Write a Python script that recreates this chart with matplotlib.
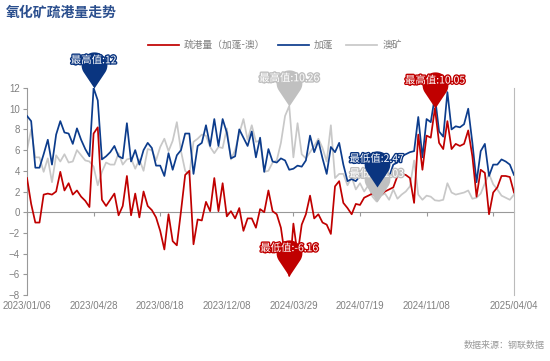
import numpy as np
import pandas as pd
import matplotlib
matplotlib.use('Agg')
import matplotlib.pyplot as plt
from matplotlib.path import Path
import matplotlib.patheffects as pe

plt.rcParams['font.family'] = ['Noto Sans CJK SC', 'DejaVu Sans']

# weekly data, 2023/01/06 - 2025/04/04
dates = pd.date_range('2023-01-06', periods=118, freq='7D')

gabon = [9.3, 8.8, 4.3, 4.3, 5.6, 7.0, 4.6, 7.5, 8.8, 7.7,
         7.6, 6.6, 8.1, 7.0, 6.1, 5.4, 12.0, 10.8, 5.1, 5.4,
         5.8, 6.4, 5.4, 5.2, 8.6, 4.9, 6.0, 4.6, 6.0, 6.7,
         6.2, 4.5, 4.5, 3.5, 5.7, 4.1, 5.5, 6.0, 7.6, 7.6,
         3.7, 6.4, 6.7, 8.4, 6.4, 9.0, 6.4, 9.0, 7.7, 5.2,
         5.4, 8.0, 7.2, 6.4, 7.8, 5.3, 7.2, 3.9, 6.1, 4.9,
         4.8, 5.2, 5.0, 4.1, 4.2, 4.5, 4.4, 5.0, 7.4, 5.8,
         6.9, 5.2, 3.7, 6.3, 5.8, 6.7, 4.6, 3.0, 3.2, 3.0,
         3.5, 3.4, 4.2, 3.3, 2.47, 3.3, 3.8, 3.4, 4.6, 4.8,
         5.4, 5.6, 5.8, 5.9, 9.2, 5.3, 9.0, 8.7, 11.2, 7.8,
         7.3, 11.6, 8.0, 8.3, 8.2, 8.5, 10.0, 6.7, 2.9, 5.9,
         6.6, 3.5, 4.6, 4.6, 5.1, 4.9, 4.6, 3.6]

australia = [6.0, 8.0, 5.3, 5.3, 3.9, 5.2, 2.9, 5.5, 4.9, 5.6,
             4.8, 4.9, 6.0, 5.5, 5.0, 4.9, 4.4, 2.6, 3.9, 4.8,
             4.6, 4.6, 5.7, 4.6, 5.1, 5.2, 4.2, 5.1, 4.0, 6.1,
             6.0, 5.0, 6.3, 7.1, 5.9, 6.9, 8.7, 5.9, 4.0, 3.6,
             6.8, 7.1, 7.5, 7.4, 6.3, 5.7, 6.3, 6.2, 8.1, 5.1,
             6.0, 7.6, 9.0, 7.0, 8.4, 6.8, 6.9, 3.9, 4.0, 4.8,
             5.0, 6.7, 9.3, 10.26, 5.3, 8.6, 5.6, 5.2, 5.8, 6.4,
             7.1, 6.2, 4.9, 8.4, 3.3, 3.7, 3.7, 2.6, 3.4, 2.2,
             2.8, 2.0, 2.6, 1.5, 1.03, 1.6, 1.8, 1.2, 2.2, 1.3,
             1.7, 2.0, 2.5, 5.0, 1.7, 1.2, 1.6, 1.5, 1.15, 1.1,
             1.2, 2.8, 1.9, 1.7, 1.8, 1.9, 2.1, 1.3, 1.4, 1.8,
             2.8, 3.7, 2.7, 2.2, 1.6, 1.4, 1.2, 1.7]

spread = [3.3, 0.8, -1.0, -1.0, 1.7, 1.8, 1.7, 2.0, 3.9, 2.1,
          2.8, 1.7, 2.1, 1.5, 1.1, 0.5, 7.6, 8.2, 1.2, 0.6,
          1.2, 1.8, -0.3, 0.6, 3.5, -0.3, 1.8, -0.5, 2.0, 0.6,
          0.2, -0.5, -1.8, -3.6, -0.2, -2.8, -3.2, 0.1, 3.6, 4.0,
          -3.1, -0.7, -0.8, 1.0, 0.1, 3.3, 0.1, 2.8, -0.4, 0.1,
          -0.6, 0.4, -1.8, -0.6, -0.6, -1.5, 0.3, 0.0, 2.1, 0.1,
          -0.2, -1.5, -4.3, -6.16, -1.1, -4.1, -1.2, -0.2, 1.6, -0.6,
          -0.2, -1.0, -1.2, -2.1, 2.5, 3.0, 0.9, 0.4, -0.2, 0.8,
          0.7, 1.4, 1.6, 1.8, 1.44, 1.7, 2.0, 2.2, 2.4, 3.5,
          3.7, 3.6, 3.3, 0.9, 7.5, 4.1, 7.4, 7.2, 10.05, 6.7,
          6.1, 8.8, 6.1, 6.6, 6.4, 6.6, 7.9, 5.4, 1.5, 4.1,
          3.8, -0.2, 1.9, 2.4, 3.5, 3.5, 3.4, 1.9]

series_names = ['疏港量（加蓬-澳）', '加蓬', '澳矿']
colors = ['#c00000', '#0c3c8c', '#c8c8c8']
pin_colors = ['#c00000', '#0a3580', '#c0c0c0']


def pin_marker(h=1.8):
    r = 1.0
    beta = np.arccos(r / h)
    t = np.linspace(-np.pi / 2 + beta, 3 * np.pi / 2 - beta, 50)
    arc = np.column_stack([r * np.cos(t), h + r * np.sin(t)])
    verts = np.vstack([[0, 0], arc, [0, 0]])
    codes = [Path.MOVETO] + [Path.LINETO] * (len(verts) - 2) + [Path.CLOSEPOLY]
    return Path(verts, codes)


PIN = pin_marker()

fig = plt.figure(figsize=(5.5, 3.61), dpi=100)
ax = fig.add_axes([27 / 550, 1 - 295 / 361, (514 - 27) / 550, (295 - 88) / 361])

x = np.arange(len(dates))
data = [spread, gabon, australia]
zs = [4, 3, 2]
for vals, c, name, z in zip(data, colors, series_names, zs):
    ax.plot(x, vals, color=c, lw=1.25, label=name, zorder=z, solid_joinstyle='round')

ax.set_xlim(0, len(x) - 1)
ax.set_ylim(-8, 12)
ax.set_yticks(range(-8, 13, 2))

tick_idx = list(range(0, len(x), 16))
lab_idx = [i for i in tick_idx if i <= 96] + [len(x) - 1]
ax.set_xticks(lab_idx)
ax.set_xticklabels([dates[i].strftime('%Y/%m/%d') for i in lab_idx])
ax.tick_params(axis='x', length=0, pad=4, labelsize=7, labelcolor='#808080')
ax.tick_params(axis='y', length=3, width=0.8, color='#999999', labelsize=7,
               labelcolor='#808080', pad=2)
for lab in ax.get_xticklabels() + ax.get_yticklabels():
    lab.set_family('Liberation Sans')

ax.spines['top'].set_visible(False)
ax.spines['bottom'].set_visible(False)
ax.spines['left'].set_color('#999999')
ax.spines['right'].set_color('#bbbbbb')
ax.spines['left'].set_linewidth(0.8)
ax.spines['right'].set_linewidth(0.8)

# zero line with ticks
zero = ax.secondary_xaxis(8 / 20)
zero.set_xticks(tick_idx)
zero.set_xticklabels([])
zero.tick_params(length=3, width=0.8, color='#999999')
zero.spines['bottom'].set_color('#999999')
zero.spines['bottom'].set_linewidth(0.8)
zero.set_zorder(1)

# max / min pins: gray first, then blue, then red on top
order = [2, 1, 0]
for k, si in enumerate(order):
    vals = np.array(data[si])
    for idx, txt in [(int(np.argmax(vals)), '最高值'), (int(np.argmin(vals)), '最低值')]:
        v = vals[idx]
        z = 5 + 2 * k
        ax.plot(idx, v, marker=PIN, ms=52, color=pin_colors[si], mec='none',
                zorder=z, clip_on=False)
        ax.annotate(f'{txt}:{v:g}', (idx, v), xytext=(0, 20), textcoords='offset points',
                    ha='center', va='center', fontsize=7.5, color='white', zorder=z + 1,
                    path_effects=[pe.withStroke(linewidth=2, foreground=pin_colors[si])],
                    annotation_clip=False)

fig.legend(loc='center', bbox_to_anchor=(0.5, 1 - 45 / 361), ncol=3, frameon=False,
           fontsize=7, labelcolor='#808080', handlelength=3.2, handletextpad=0.5,
           columnspacing=1.3, borderaxespad=0)

fig.text(0.01, 1 - 13 / 361, '氧化矿疏港量走势', fontsize=10, fontweight='bold',
         color='#2b4f8e', va='center', ha='left')
fig.text(0.99, 1 - 345 / 361, '数据来源：钢联数据', fontsize=6.5, color='#999999',
         ha='right', va='center')

fig.savefig('out.png', dpi=100)
